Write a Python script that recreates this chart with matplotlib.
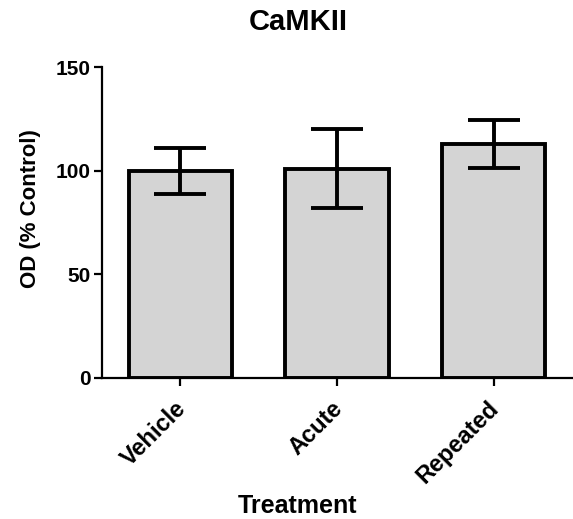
import numpy as np
import matplotlib
matplotlib.use('Agg')
import matplotlib.pyplot as plt
import matplotlib.transforms as mtransforms

plt.rcParams['font.family'] = ['Liberation Sans', 'DejaVu Sans']
plt.rcParams['font.weight'] = 'bold'

groups = ['Vehicle', 'Acute', 'Repeated']
means = [100, 101, 113]
errs = [11, 19, 11.5]
yticks = [0, 50, 100, 150]

fig = plt.figure(figsize=(5.73, 5.19), dpi=100)
ax = fig.add_axes([0.178, 0.2723, 0.8202, 0.598])

x = np.arange(len(groups))
ax.bar(x, means, width=0.66, color='#d4d4d4', edgecolor='black',
       linewidth=2.8, zorder=2)
eb = ax.errorbar(x, means, yerr=errs, fmt='none', ecolor='black',
                 elinewidth=2.8, capsize=19, capthick=2.8, zorder=3)
for c in eb[1]:
    c.set_solid_capstyle('round')

ax.set_xlim(-0.5, 2.5)
ax.set_ylim(0, 150)
ax.set_yticks(yticks)
ax.set_xticks(x)
ax.set_xticklabels(groups, rotation=45, ha='right', rotation_mode='anchor',
                   fontsize=17, fontweight='bold')
ax.tick_params(axis='y', labelsize=15, width=1.6, length=6, pad=2)
ax.tick_params(axis='x', width=1.6, length=6, pad=8)
# nudge rotated labels a bit to the left
shift = mtransforms.ScaledTranslation(-4.5 / 72, 0, fig.dpi_scale_trans)
for lab in ax.get_xticklabels():
    lab.set_transform(lab.get_transform() + shift)
for lab in ax.get_yticklabels():
    lab.set_fontweight('bold')

for s in ['top', 'right']:
    ax.spines[s].set_visible(False)
for s in ['left', 'bottom']:
    ax.spines[s].set_linewidth(1.6)

ax.set_ylabel('OD (% Control)', fontsize=16, fontweight='bold')
ax.yaxis.set_label_coords(-0.13, 0.544)
ax.set_xlabel('Treatment', fontsize=18, fontweight='bold', labelpad=4, x=0.417)
ax.set_title('CaMKII', fontsize=21, fontweight='bold', pad=27, x=0.417)

fig.savefig('out.png', dpi=100)
